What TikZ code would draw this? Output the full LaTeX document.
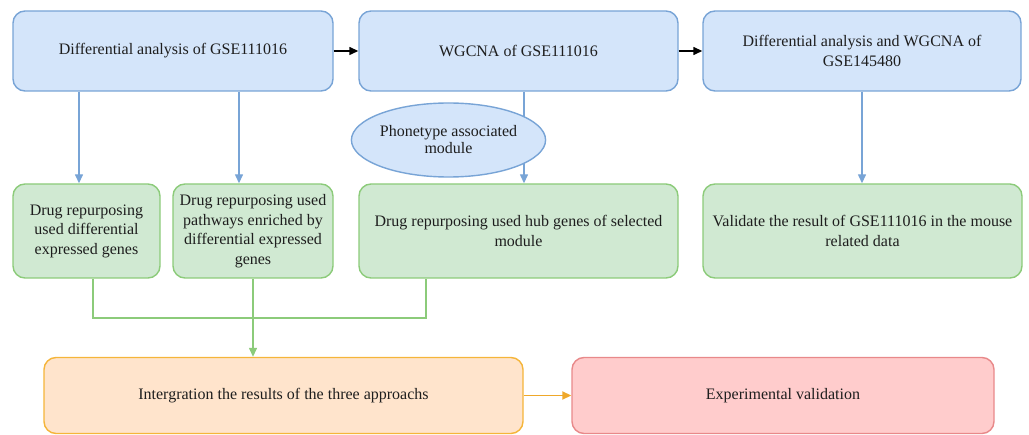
\documentclass[tikz,border=0pt]{standalone}
\usepackage{fontspec}
\setmainfont{Liberation Serif}
\usetikzlibrary{arrows.meta,shapes.geometric}
\definecolor{bfill}{HTML}{D4E5FA}
\definecolor{bdraw}{HTML}{78A4D6}
\definecolor{gfill}{HTML}{D0E9D2}
\definecolor{gdraw}{HTML}{8CCB7A}
\definecolor{ofill}{HTML}{FFE4CC}
\definecolor{odraw}{HTML}{F5B53A}
\definecolor{oline}{HTML}{EFA82A}
\definecolor{rfill}{HTML}{FFCCCC}
\definecolor{rdraw}{HTML}{E8898A}
\definecolor{txt}{HTML}{1E1E1E}
\tikzset{
  box/.style={rectangle, rounded corners=12pt, line width=1.4pt, align=center, inner sep=2pt,
     text=txt, font=\fontsize{16}{19.5}\selectfont},
  bluebox/.style={box, fill=bfill, draw=bdraw},
  greenbox/.style={box, fill=gfill, draw=gdraw},
  orangebox/.style={box, fill=ofill, draw=odraw},
  redbox/.style={box, fill=rfill, draw=rdraw},
  tip/.style={-{Triangle[length=9pt,width=8pt]}},
  conn/.style={line width=1.4pt},
}
\begin{document}
\begin{tikzpicture}[x=1pt,y=-1pt]
\useasboundingbox (0,0) rectangle (1029,435);
% top row
\node[bluebox, minimum width=320pt, minimum height=80pt] (a) at (173,51) {Differential analysis of GSE111016};
\node[bluebox, minimum width=319pt, minimum height=80pt] (b) at (518.5,51) {WGCNA of GSE111016};
\node[bluebox, minimum width=318pt, minimum height=80pt] (c) at (862,51) {Differential analysis and WGCNA of\\GSE145480};
% second row
\node[greenbox, minimum width=147pt, minimum height=94pt] (d1) at (86.5,231) {Drug repurposing\\used differential\\expressed genes};
\node[greenbox, minimum width=160pt, minimum height=94pt] (d2) at (253,231) {Drug repurposing used\\pathways enriched by\\differential expressed\\genes};
\node[greenbox, minimum width=319pt, minimum height=94pt] (d3) at (518.5,231) {Drug repurposing used hub genes of selected\\module};
\node[greenbox, minimum width=319pt, minimum height=94pt] (d4) at (862.5,231) {Validate the result of GSE111016 in the mouse\\related data};
% bottom row
\node[orangebox, minimum width=479pt, minimum height=76pt] (e) at (283.5,395.5) {Intergration the results of the three approachs};
\node[redbox, minimum width=422pt, minimum height=76pt] (f) at (783,395.5) {Experimental validation};
% top arrows
\draw[conn, black, tip] (a.east) -- (b.west);
\draw[conn, black, tip] (b.east) -- (c.west);
% blue down arrows
\draw[conn, bdraw, tip] (a.south -| 79,0) -- (d1.north -| 79,0);
\draw[conn, bdraw, tip] (a.south -| 239,0) -- (d2.north -| 239,0);
\draw[conn, bdraw, tip] (b.south -| 524,0) -- (d3.north -| 524,0);
\draw[conn, bdraw, tip] (c.south -| 862,0) -- (d4.north -| 862,0);
% ellipse
\node[ellipse, fill=bfill, draw=bdraw, line width=1.4pt, minimum width=153pt, minimum height=74pt, inner sep=0pt,
      align=center, text=txt, font=\fontsize{16}{17}\selectfont] (m) at (448.5,140) {Phonetype associated\\module};
% green connectors
\coordinate (j) at (253,318);
\draw[conn, gdraw] (d1.south -| 93,0) |- (j) -| (d3.south -| 426,0);
\draw[conn, gdraw, tip] (d2.south) -- (e.north -| d2.south);
% orange arrow
\draw[line width=1.8pt, oline, tip] (e.east) -- (f.west);
\end{tikzpicture}
\end{document}
